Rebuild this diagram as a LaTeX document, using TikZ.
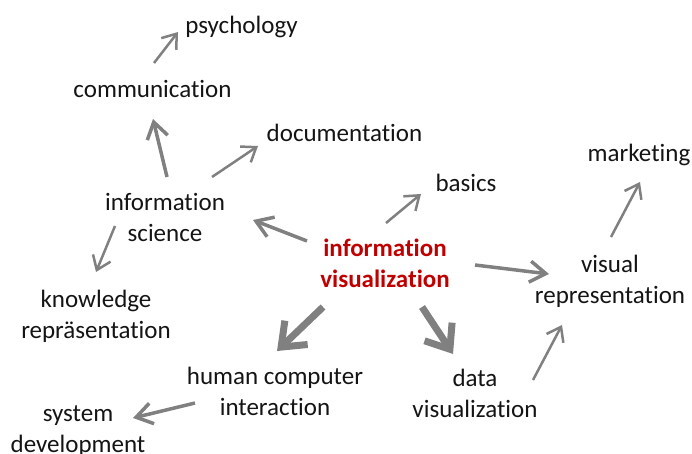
\documentclass[tikz,border=0pt]{standalone}
\usepackage{fontspec}
\setmainfont{Carlito}[Ligatures=NoCommon]
\usetikzlibrary{arrows.meta}
\definecolor{arrowgray}{RGB}{128,128,128}
\definecolor{darkred}{RGB}{192,0,0}
\definecolor{txt}{RGB}{20,20,20}
\tikzset{
  lbl/.style={anchor=base, align=center, inner sep=0pt, text=txt,
    font=\fontsize{25}{30.5}\selectfont},
  center lbl/.style={lbl, text=darkred, font=\fontsize{25}{31}\selectfont\bfseries},
  thinarrow/.style={draw=arrowgray, line width=2.5pt,
    -{Straight Barb[length=13pt,width=19pt]}},
  medarrow/.style={draw=arrowgray, line width=3.5pt,
    -{Straight Barb[length=16pt,width=21pt]}},
  thickarrow/.style={draw=arrowgray, line width=7pt,
    -{Straight Barb[length=21pt,width=33pt]}},
}
\begin{document}
\begin{tikzpicture}[x=1pt,y=-1pt]
\useasboundingbox (0,0) rectangle (692,454);
% single-line labels: anchor at baseline; two-line labels: anchor at last baseline
\node[lbl] (psy) at (241.5,34) {psychology};
\node[lbl] (com) at (152.5,98) {communication};
\node[lbl] (doc) at (344.5,142) {documentation};
\node[lbl] (isci) at (165,241) {information\\science};
\node[lbl] (know) at (96,338) {knowledge\\repräsentation};
\node[lbl] (bas) at (466,192) {basics};
\node[lbl] (mkt) at (639,162) {marketing};
\node[center lbl] (ivis) at (385,287) {information\\visualization};
\node[lbl] (vrep) at (610,303) {visual\\representation};
\node[lbl] (hci) at (275,415) {human computer\\interaction};
\node[lbl] (dvis) at (475,417) {data\\visualization};
\node[lbl] (sys) at (78,452) {system\\development};

% arrow end points
\coordinate (a1s) at (154,63);  \coordinate (a1e) at (178,32);
\coordinate (a2s) at (167,177); \coordinate (a2e) at (153,119);
\coordinate (a3s) at (212,177); \coordinate (a3e) at (258,146);
\coordinate (a4s) at (307,241); \coordinate (a4e) at (253,220);
\coordinate (a5s) at (115,226); \coordinate (a5e) at (96,272);
\coordinate (a6s) at (386,223); \coordinate (a6e) at (421,194);
\coordinate (a7s) at (475,265); \coordinate (a7e) at (549,274);
\coordinate (a8s) at (611,237); \coordinate (a8e) at (640,182);
\coordinate (a9s) at (323,307); \coordinate (a9e) at (277,351);
\coordinate (a10s) at (422,307); \coordinate (a10e) at (453,354);
\coordinate (a11s) at (533,380); \coordinate (a11e) at (562,325);
\coordinate (a12s) at (195,403); \coordinate (a12e) at (133,418);

\draw[thinarrow] (a1s) -- (a1e);
\draw[medarrow] (a2s) -- (a2e);
\draw[thinarrow] (a3s) -- (a3e);
\draw[medarrow] (a4s) -- (a4e);
\draw[thinarrow] (a5s) -- (a5e);
\draw[thinarrow] (a6s) -- (a6e);
\draw[medarrow] (a7s) -- (a7e);
\draw[thinarrow] (a8s) -- (a8e);
\draw[thickarrow] (a9s) -- (a9e);
\draw[thickarrow] (a10s) -- (a10e);
\draw[thinarrow] (a11s) -- (a11e);
\draw[medarrow] (a12s) -- (a12e);
\end{tikzpicture}
\end{document}
